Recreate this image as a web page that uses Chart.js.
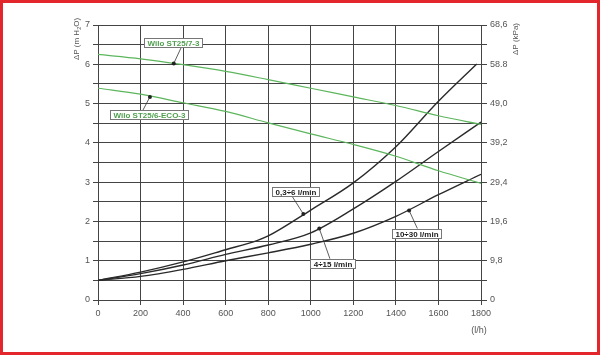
<!DOCTYPE html>
<html><head><meta charset="utf-8">
<script src="https://cdn.jsdelivr.net/npm/chart.js@4.4.0/dist/chart.umd.min.js"></script>
<style>
html,body{margin:0;padding:0;background:#fff;}
#wrap{position:relative;width:600px;height:357px;}
#frame{position:absolute;left:0;top:0;width:600px;height:355px;box-sizing:border-box;border:3px solid #e2262b;pointer-events:none;}
</style></head><body>
<div id="wrap"><canvas id="c" width="600" height="357"></canvas><div id="frame"></div></div>
<script>
const FONT = "'Liberation Sans Narrow','Liberation Sans',Arial,sans-serif";

// Flow (l/h) and head (m H2O)
const flowPump = [0, 200, 400, 600, 800, 1000, 1200, 1400, 1600, 1800];
const pumpST25_7_3 = [6.25, 6.14, 5.99, 5.82, 5.61, 5.39, 5.17, 4.95, 4.69, 4.47];
const pumpST25_6_ECO_3 = [5.39, 5.24, 5.02, 4.80, 4.51, 4.23, 3.96, 3.66, 3.29, 2.97];

const flowA = [0, 200, 400, 600, 750, 800, 1000, 1200, 1400, 1600, 1780];
const curveA = [0.5, 0.71, 0.97, 1.28, 1.52, 1.63, 2.29, 2.98, 3.9, 5.06, 6.01];
const flowB = [0, 200, 400, 600, 800, 1000, 1200, 1400, 1600, 1800];
const curveB = [0.5, 0.67, 0.89, 1.16, 1.40, 1.71, 2.32, 3.02, 3.78, 4.53];
const flowC = [0, 200, 400, 600, 800, 1000, 1200, 1400, 1600, 1800];
const curveC = [0.5, 0.6, 0.78, 1.0, 1.2, 1.42, 1.7, 2.13, 2.68, 3.2];

const xTickLabels = ['0', '200', '400', '600', '800', '1000', '1200', '1400', '1600', '1800'];
const yTicksLeft = ['0', '1', '2', '3', '4', '5', '6', '7'];
const yTicksRight = ['0', '9,8', '19,6', '29,4', '39,2', '49,0', '58.8', '68,6'];
const xUnit = '(l/h)';

// callouts: marker (mx,my), leader start (lx,ly), box centre (bx,by) in data units
const callouts = [
  {text: 'Wilo ST25/7-3', color: '#4f9f4f', mx: 356, my: 6.02, lx: 392, ly: 6.44, bx: 351, by: 6.545},
  {text: 'Wilo ST25/6-ECO-3', color: '#4f9f4f', mx: 244, my: 5.17, lx: 210, ly: 4.82, bx: 241, by: 4.71},
  {text: '0,3÷6 l/min', color: '#222', mx: 965, my: 2.19, lx: 910, ly: 2.66, bx: 929, by: 2.755},
  {text: '4÷15 l/min', color: '#222', mx: 1040, my: 1.82, lx: 1090, ly: 1.05, bx: 1101, by: 0.94},
  {text: '10÷30 l/min', color: '#222', mx: 1462, my: 2.28, lx: 1501, ly: 1.82, bx: 1496, by: 1.70}
];

const pts = (xs, ys) => xs.map((v, i) => ({x: v, y: ys[i]}));

function rotTitle(ctx, cx, cy, parts) {
  ctx.save();
  ctx.translate(cx, cy);
  ctx.rotate(-Math.PI / 2);
  let total = 0;
  parts.forEach(p => { ctx.font = (p.sub ? '5.5px ' : '8px ') + FONT; p.w = ctx.measureText(p.t).width; total += p.w; });
  let xx = -total / 2;
  ctx.textBaseline = 'middle'; ctx.textAlign = 'left'; ctx.fillStyle = '#555';
  parts.forEach(p => { ctx.font = (p.sub ? '5.5px ' : '8px ') + FONT; ctx.fillText(p.t, xx, p.sub ? 2.5 : 0); xx += p.w; });
  ctx.restore();
}

const overlay = {
  id: 'overlay',
  afterDatasetsDraw(chart) {
    const {ctx, scales: {x, y}} = chart;
    ctx.save();
    callouts.forEach(c => {
      const mx = x.getPixelForValue(c.mx), my = y.getPixelForValue(c.my);
      const lx = x.getPixelForValue(c.lx), ly = y.getPixelForValue(c.ly);
      const bx = x.getPixelForValue(c.bx), by = y.getPixelForValue(c.by);
      ctx.strokeStyle = '#333'; ctx.lineWidth = 0.8;
      ctx.beginPath(); ctx.moveTo(lx, ly); ctx.lineTo(mx, my); ctx.stroke();
      ctx.fillStyle = '#222'; ctx.beginPath(); ctx.arc(mx, my, 2, 0, Math.PI * 2); ctx.fill();
      ctx.font = 'bold 8px ' + FONT;
      const w = Math.round(ctx.measureText(c.text).width + 6), h = 9;
      const x0 = Math.round(bx - w / 2), y0 = Math.round(by - h / 2);
      ctx.fillStyle = '#fff'; ctx.fillRect(x0, y0, w, h);
      ctx.strokeStyle = '#777'; ctx.lineWidth = 1; ctx.strokeRect(x0 + 0.5, y0 + 0.5, w, h);
      ctx.fillStyle = c.color; ctx.textAlign = 'center'; ctx.textBaseline = 'middle';
      ctx.fillText(c.text, x0 + w / 2 + 0.5, y0 + h / 2 + 1);
    });
    ctx.restore();
  },
  afterDraw(chart) {
    const {ctx, scales: {x}} = chart;
    rotTitle(ctx, 77, 39, [{t: 'ΔP (m H'}, {t: '2', sub: true}, {t: 'O)'}]);
    rotTitle(ctx, 516, 39, [{t: 'ΔP (kPa)'}]);
    ctx.save();
    ctx.font = '9px ' + FONT; ctx.fillStyle = '#555'; ctx.textAlign = 'center'; ctx.textBaseline = 'middle';
    ctx.fillText(xUnit, x.getPixelForValue(1800) - 2, 331);
    ctx.restore();
  }
};

const green = '#5db65d';
const dark = '#2a2a2a';
const tickFont = {family: FONT, size: 9};
const gridCol = '#444';

new Chart(document.getElementById('c'), {
  type: 'line',
  data: {
    datasets: [
      {data: pts(flowPump, pumpST25_7_3), borderColor: green, borderWidth: 1.2},
      {data: pts(flowPump, pumpST25_6_ECO_3), borderColor: green, borderWidth: 1.2},
      {data: pts(flowA, curveA), borderColor: dark, borderWidth: 1.4},
      {data: pts(flowB, curveB), borderColor: dark, borderWidth: 1.4},
      {data: pts(flowC, curveC), borderColor: dark, borderWidth: 1.4}
    ]
  },
  options: {
    responsive: false,
    animation: false,
    devicePixelRatio: 1,
    layout: {padding: {top: 25, left: 0, right: 0, bottom: 0}},
    elements: {point: {radius: 0}, line: {cubicInterpolationMode: 'monotone', fill: false}},
    plugins: {legend: {display: false}, tooltip: {enabled: false}, title: {display: false}},
    scales: {
      x: {
        type: 'linear', min: 0, max: 1800,
        afterFit: s => { s.height = 57; },
        ticks: {stepSize: 200, autoSkip: false, maxRotation: 0, color: '#555', font: tickFont, padding: 3,
          callback: v => xTickLabels[Math.round(v / 200)]},
        grid: {color: gridCol, lineWidth: 1, tickLength: 5, tickColor: gridCol},
        border: {color: gridCol}
      },
      y: {
        position: 'left', min: 0, max: 7,
        afterFit: s => { s.width = 98; },
        ticks: {stepSize: 0.5, autoSkip: false, color: '#555', font: tickFont, padding: 3,
          callback: v => Number.isInteger(v) ? yTicksLeft[v] : ''},
        grid: {color: gridCol, lineWidth: 1, tickLength: 5, tickColor: gridCol},
        border: {color: gridCol}
      },
      y2: {
        position: 'right', min: 0, max: 7,
        afterFit: s => { s.width = 119; },
        ticks: {stepSize: 0.5, autoSkip: false, color: '#555', font: tickFont, padding: 3,
          callback: v => Number.isInteger(v) ? yTicksRight[v] : ''},
        grid: {drawOnChartArea: false, tickLength: 6, color: gridCol, tickColor: gridCol},
        border: {color: gridCol}
      }
    }
  },
  plugins: [overlay]
});
</script>
</body></html>
